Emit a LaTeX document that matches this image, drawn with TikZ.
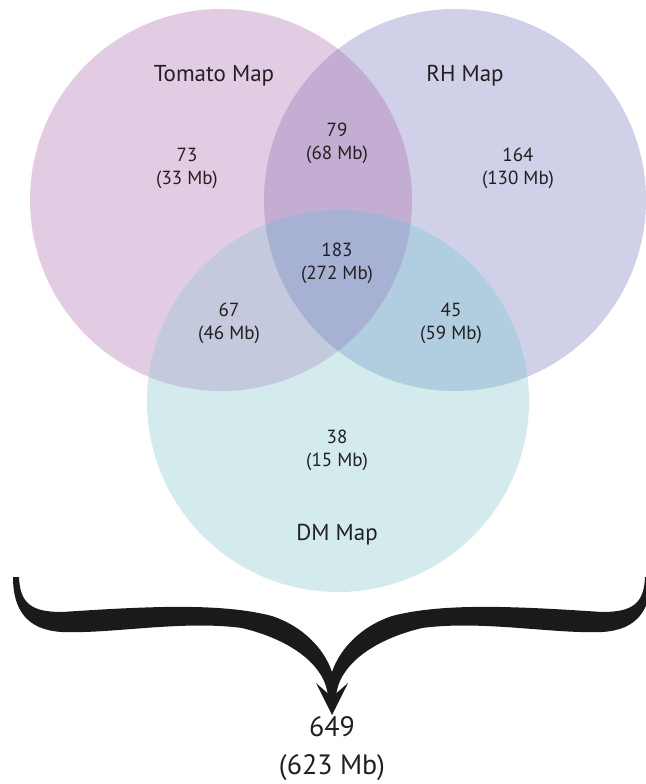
\documentclass[tikz,border=0pt]{standalone}
\usepackage{fontspec}
\setmainfont{PT Sans}
\usetikzlibrary{positioning}

\definecolor{tomatofill}{HTML}{E2CCE4}
\definecolor{rhfill}{HTML}{D0D1E8}
\definecolor{dmfill}{HTML}{D3EBEC}
\definecolor{tomrh}{HTML}{C3ADD3}
\definecolor{tomdm}{HTML}{C5C9DD}
\definecolor{rhdm}{HTML}{B1CDE0}
\definecolor{allthree}{HTML}{A6B1D3}
\definecolor{textgray}{HTML}{231F20}
\definecolor{bracecol}{HTML}{1A1A18}

\begin{document}
\begin{tikzpicture}[x=1pt, y=-1pt]

\useasboundingbox (0,0) rectangle (645,784);

\tikzstyle{venn}=[circle, inner sep=0pt, minimum size=382pt];
\tikzstyle{count}=[align=center, inner sep=0pt, text=textgray,
font=\fontsize{19}{23}\selectfont];
\tikzstyle{mapname}=[inner sep=0pt, text=textgray,
font=\fontsize{23}{27}\selectfont];
\tikzstyle{brace}=[fill=bracecol];

% circles
\node[venn, fill=tomatofill] (tomato) at (221,200) {};
\node[venn, fill=rhfill] (rh) at (455,200) {};
\node[venn, fill=dmfill] (dm) at (338,401) {};

% overlaps
\begin{scope}
\clip (rh.center) circle (191);
\fill[rhdm] (dm.center) circle (191);
\end{scope}
\begin{scope}
\clip (tomato.center) circle (191);
\fill[tomrh] (rh.center) circle (191);
\fill[tomdm] (dm.center) circle (191);
\clip (rh.center) circle (191);
\fill[allthree] (dm.center) circle (191);
\end{scope}

% names
\node[mapname] (tomatoname) at (214,76) {Tomato Map};
\node[mapname] (rhname) at (465,76) {RH Map};
\node[mapname] (dmname) at (337,535) {DM Map};

% counts
\node[count] (tomonly) at (187,168) {73\\(33 Mb)};
\node[count] (tomrhcount) at (337,143) {79\\(68 Mb)};
\node[count] (rhonly) at (518,168) {164\\(130 Mb)};
\node[count] (allcount) at (337,263) {183\\(272 Mb)};
\node[count] (tomdmcount) at (229,323) {67\\(46 Mb)};
\node[count] (rhdmcount) at (451,323) {45\\(59 Mb)};
\node[count] (dmonly) at (337,450) {38\\(15 Mb)};

% brace
\foreach \side in {1,-1}
  \fill[brace, shift={(332,0)}, xscale=\side]
    (-319,577) -- (-313,577)
    .. controls (-312,604) and (-300,612) .. (-270,612)
    .. controls (-180,606) and (-110,603) .. (-60,616)
    .. controls (-30,626) and (-8,648) .. (0,672)
    -- (0,697) -- (-4,697)
    .. controls (-6,666) and (-40,640) .. (-90,628)
    .. controls (-150,620) and (-220,634) .. (-270,632)
    .. controls (-305,630) and (-319,610) .. (-319,577) -- cycle;
\fill[brace] (332,715) -- (316,683) -- (332,697) -- (348,683) -- cycle;

\node[count, font=\fontsize{28}{38}\selectfont] (total) at (332,749) {649\\(623 Mb)};

\end{tikzpicture}
\end{document}
